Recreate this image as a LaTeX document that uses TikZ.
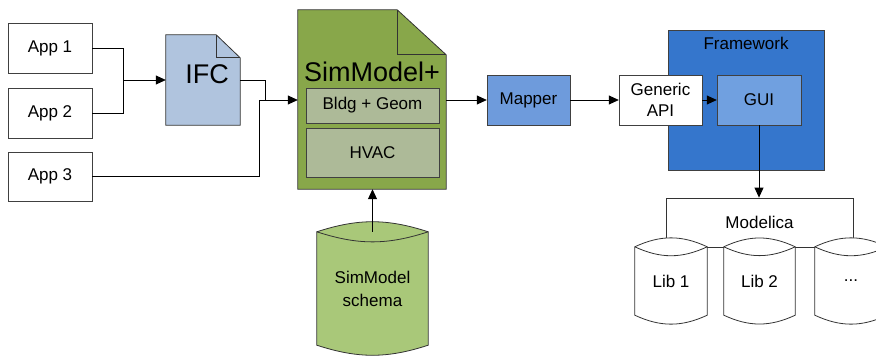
\documentclass[tikz,border=0pt]{standalone}
\usepackage{fontspec}
\setmainfont{Liberation Sans}
\usepackage{xcolor}
\usetikzlibrary{positioning, arrows.meta, backgrounds}

\definecolor{ifcblue}{HTML}{B0C4DE}
\definecolor{simgreen}{HTML}{88A74A}
\definecolor{simgray}{HTML}{ADBA98}
\definecolor{schemagreen}{HTML}{A9C879}
\definecolor{mapperblue}{HTML}{6E9BDC}
\definecolor{fwblue}{HTML}{3576CC}
\definecolor{guiblue}{HTML}{70A0E0}

\begin{document}
\begin{tikzpicture}[x=1pt, y=-1pt,
    appbox/.style={rectangle, draw=black!75, fill=white, minimum width=84pt, minimum height=50pt, align=center, font=\fontsize{17}{21}\selectfont},
    docpage/.style={rectangle, inner sep=0pt},
    subbox/.style={rectangle, draw=black!75, fill=simgray, minimum width=133pt, align=center, font=\fontsize{17}{21}\selectfont},
    toolbox/.style={rectangle, draw=black!75, minimum width=83pt, minimum height=50pt, align=center, font=\fontsize{17}{21}\selectfont},
    drum/.style={rectangle, inner sep=0pt, align=center, font=\fontsize{17}{23}\selectfont},
    outline/.style={draw=black!80, line width=0.8pt},
    line/.style={draw=black, line width=0.8pt},
    arrow/.style={-{Triangle[length=10pt, width=9pt]}, line width=0.8pt}
]
\useasboundingbox (0,0) rectangle (876,356);

% Applications
\node[appbox] (app1) at (50,48) {App 1};
\node[appbox] (app2) at (50,113) {App 2};
\node[appbox, minimum height=49pt] (app3) at (50,176.5) {App 3};

% IFC file
\node[docpage, minimum width=74pt, minimum height=90pt,
      label={[font=\fontsize{27}{30}\selectfont, xshift=4pt, yshift=6pt]center:IFC}] (ifc) at (203,80) {};

% SimModel+ file
\node[docpage, minimum width=148pt, minimum height=179pt,
      label={[font=\fontsize{27}{30}\selectfont, yshift=27.5pt]center:SimModel+}] (sim) at (372,99.5) {};
\node[subbox, minimum height=35pt] (bldg) at (372.5,105.5) {Bldg + Geom};
\node[subbox, minimum height=49pt] (hvac) at (372.5,152.5) {HVAC};

% SimModel schema
\node[drum, minimum width=111pt, minimum height=113pt] (schema) at (372.5,288.5) {SimModel\\schema};

% Mapper and framework
\node[toolbox, fill=mapperblue] (mapper) at (528.5,100) {Mapper};
\node[rectangle, draw=black!75, fill=fwblue, minimum width=156pt, minimum height=140pt,
      label={[font=\fontsize{17}{21}\selectfont, anchor=center, yshift=-14pt]north:Framework}] (framework) at (746,100) {};
\node[toolbox, fill=white] (api) at (660.5,100) {Generic\\API};
\node[toolbox, fill=guiblue, minimum width=84pt] (gui) at (759,100) {GUI};

% Modelica libraries
\node[drum, minimum width=72pt, minimum height=68pt] (lib1) at (671,281) {Lib 1};
\node[drum, minimum width=71pt, minimum height=68pt] (lib2) at (759.5,281) {Lib 2};
\node[drum, minimum width=72pt, minimum height=68pt] (lib3) at (851,281) {...};

\begin{scope}[on background layer]
  % file shapes
  \draw[outline, fill=ifcblue] (ifc.south west) -- (ifc.north west) -- ([xshift=-24pt]ifc.north east)
    -- ([yshift=-23pt]ifc.north east) -- (ifc.south east) -- cycle;
  \draw[outline] ([xshift=-24pt]ifc.north east) |- ([yshift=-23pt]ifc.north east);
  \draw[outline, fill=simgreen] (sim.south west) -- (sim.north west) -- ([xshift=-49pt]sim.north east)
    -- ([yshift=-45pt]sim.north east) -- (sim.south east) -- cycle;
  \draw[outline] ([xshift=-49pt]sim.north east) |- ([yshift=-45pt]sim.north east);
  % cylinders
  \draw[outline, fill=schemagreen] (schema.north west) -- (schema.south west) to[bend right=18] (schema.south east)
    -- (schema.north east) to[bend right=18] (schema.north west) -- cycle;
  \draw[outline] (schema.north west) to[bend right=18] (schema.north east);
  \node[rectangle, draw=black!80, line width=0.8pt, fill=white, minimum width=187pt, minimum height=49pt,
        font=\fontsize{17}{21}\selectfont] (modelica) at (759.5,222.5) {Modelica};
  \foreach \lib in {lib1, lib2, lib3} {
    \draw[outline, fill=white] (\lib.north west) -- (\lib.south west) to[bend right=25] (\lib.south east)
      -- (\lib.north east) to[bend right=25] (\lib.north west) -- cycle;
    \draw[outline] (\lib.north west) to[bend right=25] (\lib.north east);
  }
\end{scope}

% Connections
\coordinate (j1) at (123,80);
\coordinate (j2) at (259,100);
\draw[line] (app1.east) -| (j1);
\draw[line] (app2.east) -| (j1);
\draw[line, arrow] (j1) -- (ifc.west);
\draw[line] (ifc.east) -| ([xshift=6pt]j2);
\draw[line] (app3.east) -| (j2);
\draw[line, arrow] (j2) -- (sim.west |- j2);
\draw[line, arrow] (schema.north) -- (schema.north |- sim.south);
\draw[line, arrow] (sim.east |- mapper.west) -- (mapper.west);
\draw[line, arrow] (mapper.east) -- (api.west);
\draw[line, arrow] (api.east) -- (gui.west);
\draw[line, arrow] (gui.south) -- (gui.south |- modelica.north);

\end{tikzpicture}
\end{document}
